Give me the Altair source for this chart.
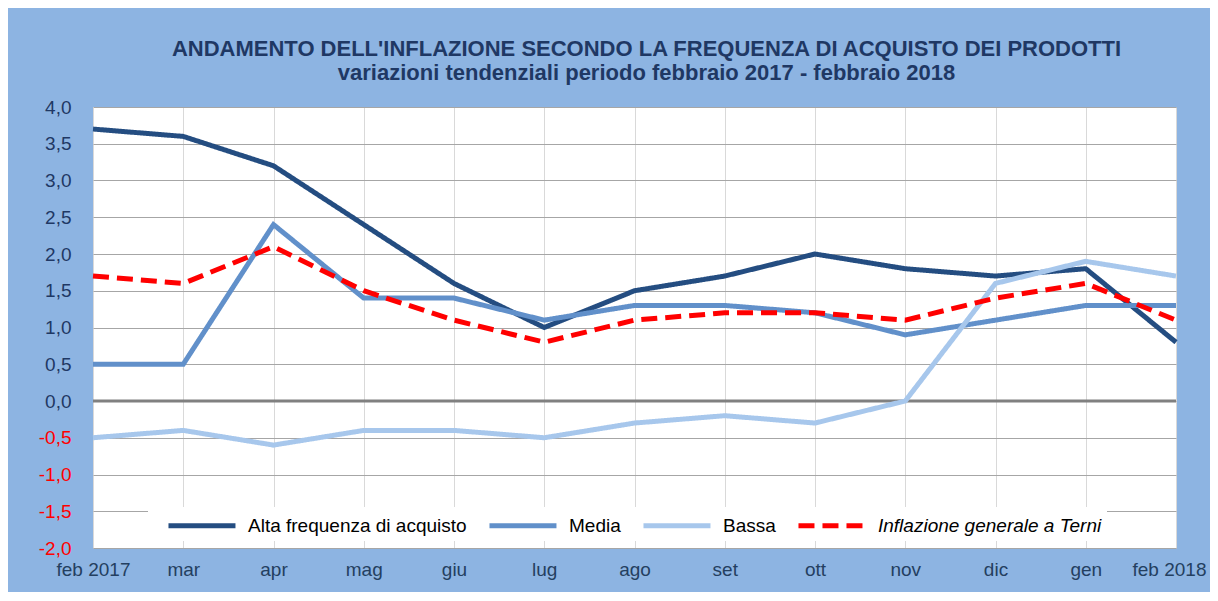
import altair as alt
import pandas as pd

months = ["feb 2017", "mar", "apr", "mag", "giu", "lug", "ago", "set", "ott", "nov", "dic", "gen", "feb 2018"]
series_names = ["Alta frequenza di acquisto", "Media", "Bassa", "Inflazione generale a Terni"]
alta = [3.7, 3.6, 3.2, 2.4, 1.6, 1.0, 1.5, 1.7, 2.0, 1.8, 1.7, 1.8, 0.8]
media = [0.5, 0.5, 2.4, 1.4, 1.4, 1.1, 1.3, 1.3, 1.2, 0.9, 1.1, 1.3, 1.3]
bassa = [-0.5, -0.4, -0.6, -0.4, -0.4, -0.5, -0.3, -0.2, -0.3, 0.0, 1.6, 1.9, 1.7]
inflazione = [1.7, 1.6, 2.1, 1.5, 1.1, 0.8, 1.1, 1.2, 1.2, 1.1, 1.4, 1.6, 1.1]
y_ticks = [-2.0, -1.5, -1.0, -0.5, 0.0, 0.5, 1.0, 1.5, 2.0, 2.5, 3.0, 3.5, 4.0]

colors = ["#244D81", "#6190CA", "#A7C7EC", "#FF0000"]
dashes = [[1, 0], [1, 0], [1, 0], [16, 8]]

rows = []
for name, vals in zip(series_names, [alta, media, bassa, inflazione]):
    for i, (m, v) in enumerate(zip(months, vals)):
        rows.append({"serie": name, "mese": m, "idx": i, "valore": v})
df = pd.DataFrame(rows)

x_enc = alt.X(
    "mese:N",
    sort=months,
    scale=alt.Scale(type="point", padding=0),
    axis=alt.Axis(
        title=None, labelAngle=0, labelFontSize=19, labelFont="Liberation Sans",
        labelColor="#243F60", labelPadding=12, ticks=False, domain=False,
        labelOffset={"expr": "datum.value == 'feb 2018' ? -7 : 0"},
        labelBound=False, labelOverlap=False,
        grid=True, gridColor="#D9D9D9", gridWidth=1,
    ),
)
y_axis = alt.Axis(
    title=None, values=y_ticks, labelFontSize=19, labelFont="Liberation Sans",
    labelColor={"expr": "datum.value < 0 ? '#FF0000' : '#1F3864'"},
    labelExpr="(datum.value < 0 ? '-' : '') + replace(format(abs(datum.value), '.1f'), '.', ',')",
    labelPadding=22, ticks=False, domain=False, labelOverlap=False,
    grid=True, gridColor="#A6A6A6", gridWidth=1,
)
y_scale = alt.Scale(domain=[-2, 4], nice=False, zero=False)
y_enc = alt.Y("valore:Q", scale=y_scale, axis=y_axis)

legend_kw = dict(
    title=None, orient="none", legendX=55, legendY=400, direction="horizontal",
    fillColor="white", padding=5, symbolType="M0.18,0L6.27,0", symbolSize=484,
    symbolStrokeWidth=5, labelFontSize=19, labelFont="Liberation Sans",
    labelColor="#000000", labelLimit=500, labelOffset=68, columnPadding=7,
    labelFontStyle={"expr": "datum.label == 'Inflazione generale a Terni' ? 'italic' : 'normal'"},
)

lines = alt.Chart(df).mark_line(strokeWidth=5).encode(
    x=x_enc,
    y=y_enc,
    order="idx:Q",
    color=alt.Color(
        "serie:N",
        sort=series_names,
        scale=alt.Scale(domain=series_names, range=colors),
        legend=alt.Legend(**legend_kw),
    ),
    strokeDash=alt.StrokeDash(
        "serie:N",
        sort=series_names,
        scale=alt.Scale(domain=series_names, range=dashes),
        legend=alt.Legend(**legend_kw),
    ),
)

zero_rule = alt.Chart(pd.DataFrame({"valore": [0.0]})).mark_rule(
    color="#808080", strokeWidth=3
).encode(y=y_enc)

chart = alt.layer(zero_rule, lines).properties(
    width=1083,
    height=441,
    autosize="none",
    padding={"left": 85, "top": 99, "right": 34, "bottom": 44},
    title=alt.TitleParams(
        text="ANDAMENTO DELL'INFLAZIONE SECONDO LA FREQUENZA DI ACQUISTO DEI PRODOTTI",
        subtitle="variazioni tendenziali periodo febbraio 2017 - febbraio 2018",
        anchor="middle", dx=12, offset=13,
        font="Liberation Sans", fontSize=22, fontWeight="bold", color="#1F3864",
        subtitleFont="Liberation Sans", subtitleFontSize=22, subtitleFontWeight="bold",
        subtitleColor="#1F3864", subtitlePadding=2,
    ),
).configure(
    background="#8DB4E2",
).configure_view(
    fill="white", strokeWidth=0,
)

chart.save("out.html", embed_options={"renderer": "svg", "actions": False})
